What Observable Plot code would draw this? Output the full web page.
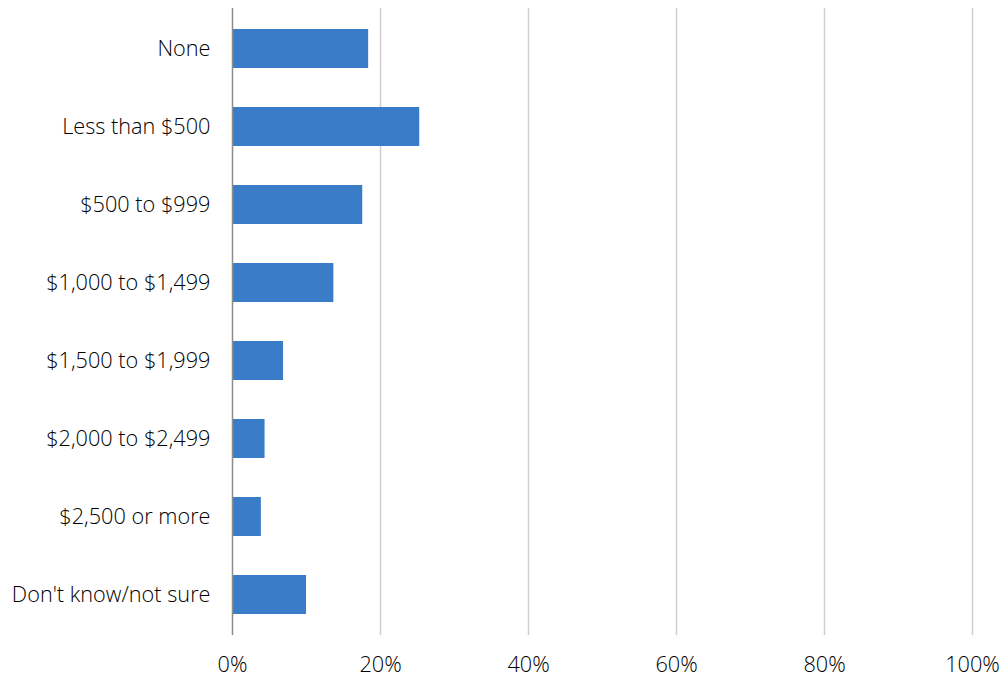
<!DOCTYPE html>
<html>
<head>
<meta charset="utf-8">
<script src="https://cdn.jsdelivr.net/npm/d3@7"></script>
<script src="https://cdn.jsdelivr.net/npm/@observablehq/plot@0.6"></script>
<style>
  html, body { margin: 0; padding: 0; background: #fff; }
  #chart svg { display: block; }
</style>
</head>
<body>
<div id="chart"></div>
<script>
const categories = ["None", "Less than $500", "$500 to $999", "$1,000 to $1,499", "$1,500 to $1,999", "$2,000 to $2,499", "$2,500 or more", "Don't know/not sure"];
const values = [0.184, 0.253, 0.176, 0.137, 0.069, 0.044, 0.039, 0.100];
const xTicks = [0, 0.2, 0.4, 0.6, 0.8, 1.0];

const data = categories.map((c, i) => ({category: c, value: values[i]}));

const chart = Plot.plot({
  width: 1001,
  height: 678,
  marginTop: 8,
  marginBottom: 43,
  marginLeft: 232,
  marginRight: 29,
  style: {fontFamily: "'Open Sans', sans-serif", fontSize: "21.7px", fontWeight: 300, color: "#000", background: "#fff"},
  x: {domain: [0, 1], ticks: xTicks, tickFormat: d3.format(".0%"), tickSize: 0, tickPadding: 21, label: null},
  y: {domain: categories, paddingInner: 0.5, paddingOuter: 0.25, tickSize: 0, tickPadding: 22, label: null},
  marks: [
    Plot.ruleX(xTicks.filter(d => d > 0), {stroke: "#cfcfcf", strokeWidth: 1.5}),
    Plot.barX(data, {x: "value", y: "category", fill: "#3a7cc8"}),
    Plot.ruleX([0], {stroke: "#8c8c8c", strokeWidth: 1.5}),
    Plot.axisX({ticks: xTicks, tickFormat: d3.format(".0%"), tickSize: 0, tickPadding: 21, fontSize: 21.7}),
    Plot.axisY({tickSize: 0, tickPadding: 22, fontSize: 21.7})
  ]
});
document.getElementById("chart").appendChild(chart);
</script>
</body>
</html>
